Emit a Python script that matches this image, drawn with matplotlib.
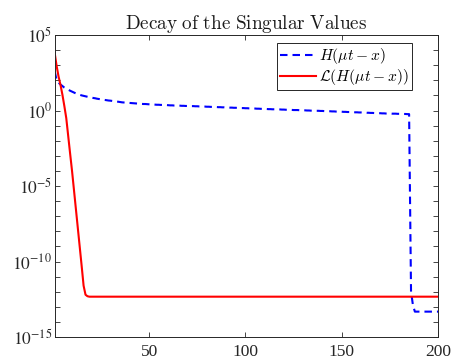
import numpy as np
import matplotlib
matplotlib.use("Agg")
import matplotlib.pyplot as plt
from matplotlib.font_manager import FontProperties
from matplotlib.ticker import NullFormatter, NullLocator

# ---- data (log10 of singular values, index 1..200) ----
blue_log10 = [
    2.60, 2.00, 1.85, 1.72, 1.62, 1.52, 1.45, 1.38, 1.31, 1.25,
    1.19, 1.13, 1.08, 1.04, 1.00, 0.97, 0.94, 0.91, 0.88, 0.86,
    0.83, 0.81, 0.78, 0.76, 0.74, 0.72, 0.70, 0.68, 0.66, 0.65,
    0.63, 0.61, 0.59, 0.58, 0.56, 0.54, 0.53, 0.52, 0.51, 0.50,
    0.49, 0.48, 0.47, 0.46, 0.45, 0.44, 0.43, 0.43, 0.42, 0.41,
    0.40, 0.40, 0.39, 0.38, 0.38, 0.37, 0.37, 0.36, 0.36, 0.35,
    0.34, 0.34, 0.33, 0.33, 0.32, 0.32, 0.31, 0.31, 0.30, 0.30,
    0.30, 0.29, 0.29, 0.28, 0.28, 0.27, 0.27, 0.26, 0.26, 0.25,
    0.25, 0.24, 0.24, 0.23, 0.23, 0.22, 0.22, 0.21, 0.21, 0.20,
    0.20, 0.19, 0.19, 0.18, 0.18, 0.17, 0.17, 0.16, 0.16, 0.15,
    0.15, 0.14, 0.14, 0.13, 0.13, 0.12, 0.12, 0.11, 0.11, 0.10,
    0.10, 0.09, 0.09, 0.08, 0.08, 0.08, 0.07, 0.07, 0.06, 0.06,
    0.05, 0.05, 0.04, 0.04, 0.03, 0.03, 0.03, 0.02, 0.02, 0.01,
    0.01, 0.00, 0.00, -0.01, -0.01, -0.01, -0.02, -0.02, -0.03, -0.03,
    -0.04, -0.04, -0.05, -0.05, -0.06, -0.06, -0.07, -0.07, -0.08, -0.08,
    -0.09, -0.09, -0.10, -0.10, -0.11, -0.11, -0.12, -0.12, -0.13, -0.13,
    -0.14, -0.14, -0.15, -0.15, -0.16, -0.16, -0.17, -0.17, -0.18, -0.18,
    -0.19, -0.19, -0.20, -0.20, -0.20, -0.21, -0.21, -0.21, -0.22, -0.22,
    -0.22, -0.23, -0.23, -0.24, -0.24, -12.00, -12.90, -13.32, -13.32, -13.32,
    -13.32, -13.32, -13.32, -13.32, -13.32, -13.32, -13.32, -13.32, -13.32, -13.32,
]
red_head_log10 = [
    3.80, 2.95, 2.25, 1.70, 1.05, 0.30, -0.50, -1.70, -2.85, -4.00,
    -5.25, -6.50, -7.75, -9.00, -10.30, -11.60, -12.20, -12.30,
]
red_floor_log10 = -12.33
n_values = 200

red_log10 = red_head_log10 + [red_floor_log10] * (n_values - len(red_head_log10))

labels = [r'$H(\mu t-x)$', r'$\mathcal{L}(H(\mu t-x))$']
title = r'$\mathrm{Decay\ of\ the\ Singular\ Values}$'
xticks = [50, 100, 150, 200]
yticks_exp = [-15, -10, -5, 0, 5]

# ---- plotting ----
plt.rcParams['font.family'] = ['Liberation Serif', 'DejaVu Serif']
plt.rcParams['mathtext.fontset'] = 'stix'

fig = plt.figure(figsize=(4.52, 3.62), dpi=100)
ax = fig.add_axes([54.7/452, 1-337/362, (438-54.7)/452, (337-35)/362])

idx = np.arange(1, n_values + 1)
ax.semilogy(idx, 10.0 ** np.array(blue_log10), color='#0000ff', lw=1.5,
            linestyle=(0, (3.6, 2.4)), label=labels[0])
ax.semilogy(idx, 10.0 ** np.array(red_log10), color='#ff0000', lw=1.5,
            label=labels[1])

ax.set_xlim(1, 200)
ax.set_ylim(1e-15, 1e5)
ax.set_xticks(xticks)
ax.set_xticklabels([str(t) for t in xticks])
ax.xaxis.set_minor_locator(NullLocator())
ax.set_yticks([10.0 ** e for e in yticks_exp])
ax.set_yticklabels([r'$10^{%d}$' % e for e in yticks_exp])
ax.set_yticks([10.0 ** e for e in range(-15, 6)], minor=True)
ax.yaxis.set_minor_formatter(NullFormatter())

edge = '#262626'
for s in ax.spines.values():
    s.set_color(edge)
    s.set_linewidth(0.7)
ax.tick_params(which='both', direction='in', top=True, right=True,
               length=3.5, width=0.6, color=edge, labelsize=12.5,
               labelcolor='#262626')
ax.tick_params(axis='x', pad=5)
ax.tick_params(axis='y', pad=2)

t = ax.set_title(title, fontsize=13.8, pad=4, color='#1a1a1a')
t.set_math_fontfamily('cm')

leg = ax.legend(loc='upper right', bbox_to_anchor=(0.931, 0.9725),
                borderaxespad=0, frameon=True, fancybox=False,
                prop=FontProperties(size=11.2, math_fontfamily='cm'),
                handlelength=2.3, handletextpad=0.2, borderpad=0.2,
                labelspacing=0.05)
leg.get_frame().set_edgecolor('#262626')
leg.get_frame().set_linewidth(0.7)
leg.get_frame().set_alpha(1)

fig.savefig('out.png', dpi=100)
